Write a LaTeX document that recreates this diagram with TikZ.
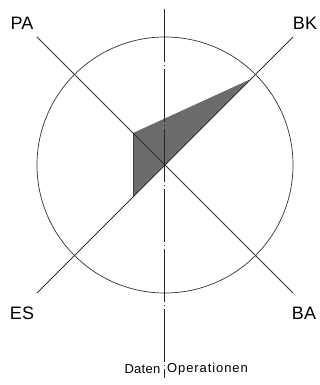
\documentclass[tikz,border=0pt]{standalone}
\usepackage{fontspec}
\setmainfont{Liberation Sans}
\begin{document}
\begin{tikzpicture}[x=1pt,y=-1pt,
  axis/.style={line width=0.8pt,black!80},
  ring/.style={line width=0.7pt,black!80},
  sym/.style={line width=0.8pt,black!85,dash pattern=on 53pt off 3pt on 1pt off 3pt},
  big/.style={font=\fontsize{18}{20}\selectfont,inner sep=0pt},
  small/.style={font=\fontsize{13}{15}\selectfont,inner sep=0pt}]
\useasboundingbox (0,0) rectangle (320,385);
\coordinate (c) at (165,165);
\coordinate (pa) at (37,37);
\coordinate (ba) at (293,293);
\coordinate (bk) at (293,37);
\coordinate (es) at (37,293);
\coordinate (s1) at (133,133);
\coordinate (s2) at (251,79);
\coordinate (s3) at (133,197);
\fill[black!58] (s1) -- (s2) -- (s3) -- cycle;
\draw[line width=0.6pt,black!75] (s1) -- (s3);
\draw[ring] (c) circle (128);
\draw[axis] (pa) -- (ba);
\draw[axis] (bk) -- (es);
\coordinate (vt) at (164.5,9);
\coordinate (vb) at (164.5,378);
\draw[sym] (vt) -- (vb);
\node[big] (lpa) at (22,23) {PA};
\node[big] (lbk) at (305,23) {BK};
\node[big] (les) at (22,313) {ES};
\node[big] (lba) at (304,313) {BA};
\node[small,anchor=east] (ld) at (160.5,369) {\addfontfeature{LetterSpace=2}Daten};
\node[small,anchor=west] (lo) at (167,369) {\addfontfeature{LetterSpace=7}Operationen};
\end{tikzpicture}
\end{document}
